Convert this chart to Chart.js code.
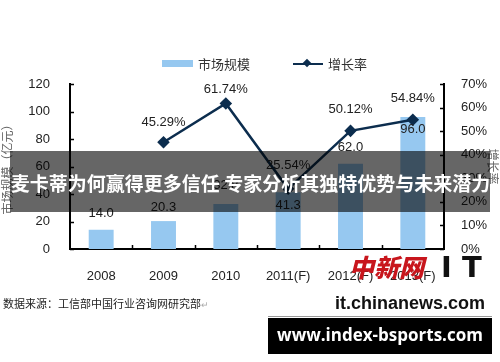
<!DOCTYPE html>
<html>
<head>
<meta charset="utf-8">
<script src="https://cdn.jsdelivr.net/npm/chart.js@4.4.1/dist/chart.umd.min.js"></script>
<style>
  body { margin: 0; background: #fff; }
  #wrap { position: relative; width: 500px; height: 362px; overflow: hidden; font-family: "Liberation Sans", Arial, sans-serif; }
  #c { position: absolute; left: 0; top: 0; }
  .cjk { font-family: "Noto Sans CJK SC", sans-serif; }
  .abs { position: absolute; white-space: nowrap; }
</style>
</head>
<body>
<div id="wrap">
  <canvas id="c" width="500" height="362"></canvas>

  <!-- legend -->
  <div class="abs" style="left:162px;top:60px;width:31px;height:7px;background:rgb(150,200,240);"></div>
  <div class="abs cjk" style="left:198px;top:55px;font-size:13px;color:#333;line-height:18px;">市场规模</div>
  <div class="abs" style="left:293px;top:63px;width:30px;height:2px;background:#0c2d4e;"></div>
  <div class="abs" style="left:304px;top:60px;width:6px;height:6px;background:#0c2d4e;transform:rotate(45deg);"></div>
  <div class="abs cjk" style="left:328px;top:55px;font-size:13px;color:#333;line-height:18px;">增长率</div>

  <!-- source -->
  <div class="abs cjk" style="left:3px;top:295px;font-size:11px;color:#222;line-height:16px;">数据来源：工信部中国行业咨询网研究部<span style="color:#aaa;font-size:9px;">↵</span></div>

  <!-- title banner -->
  <div class="abs" style="left:10px;top:151px;width:480px;height:61px;background:rgba(0,0,0,0.6);"></div>
  <div class="abs cjk" style="left:10px;top:169px;width:481px;text-align:center;font-size:19px;font-weight:bold;color:#fff;line-height:28px;">麦卡蒂为何赢得更多信任 专家分析其独特优势与未来潜力</div>

  <!-- watermark -->
  <div class="abs cjk" style="left:349px;top:250px;font-size:25px;font-weight:900;color:#c8161d;line-height:32px;font-style:italic;">中新网</div>
  <div class="abs" style="left:441px;top:252px;font-size:29px;font-weight:bold;color:#111;line-height:30px;font-family:'DejaVu Sans',sans-serif;">I T</div>
  <div class="abs" style="left:335px;top:293px;font-size:18px;font-weight:bold;color:#111;line-height:20px;">it.chinanews.com</div>

  <!-- bottom box -->
  <div class="abs" style="left:268px;top:316px;width:224px;height:1px;background:#999;"></div>
  <div class="abs" style="left:268px;top:318px;width:224px;height:36px;background:#000;"></div>
  <div class="abs" style="left:268px;top:322px;width:224px;text-align:center;font-size:17px;font-weight:bold;color:#fff;line-height:26px;font-family:'Open Sans',sans-serif;">www.index-bsports.com</div>
</div>

<script>
const years = ['2008', '2009', '2010', '2011(F)', '2012(F)', '2013(F)'];
const marketSize = [14.0, 20.3, 32.8, 41.3, 62.0, 96.0];
const growthRate = [null, 45.29, 61.74, 25.54, 50.12, 54.84];
const sizeTicks = [0, 20, 40, 60, 80, 100, 120];
const rateTicks = [0, 10, 20, 30, 40, 50, 60, 70];

// label nudges (px, negative = up)
const sizeLabelShift = [-16, -14, -18, 13, -16, 12];
const rateLabelShift = [-20, -14, -23, -21, -21];

const decor = {
  id: 'decor',
  afterDraw(chart) {
    const ctx = chart.ctx;
    const x = chart.scales.x, y = chart.scales.y, y1 = chart.scales.y1;
    ctx.save();
    ctx.strokeStyle = '#000';
    ctx.lineWidth = 1.5;
    ctx.beginPath();
    sizeTicks.forEach(v => {
      const py = Math.round(y.getPixelForValue(v)) + 0.5;
      ctx.moveTo(x.left, py); ctx.lineTo(x.left + 4, py);
    });
    rateTicks.forEach(v => {
      const py = Math.round(y1.getPixelForValue(v)) + 0.5;
      ctx.moveTo(x.right, py); ctx.lineTo(x.right - 4, py);
    });
    for (let i = 1; i < years.length; i++) {
      const px = Math.round((x.getPixelForValue(i - 1) + x.getPixelForValue(i)) / 2) + 0.5;
      ctx.moveTo(px, y.bottom); ctx.lineTo(px, y.bottom - 4);
    }
    ctx.stroke();

    ctx.font = '13px "Liberation Sans", Arial, sans-serif';
    ctx.fillStyle = '#222';
    ctx.textAlign = 'center';
    ctx.textBaseline = 'middle';
    chart.getDatasetMeta(1).data.forEach((bar, i) => {
      ctx.fillText(marketSize[i].toFixed(1), bar.x, bar.y + sizeLabelShift[i]);
    });
    chart.getDatasetMeta(0).data.forEach((pt, i) => {
      if (growthRate[i] == null) return;
      ctx.fillText(growthRate[i].toFixed(2) + '%', pt.x, pt.y + rateLabelShift[i - 1]);
    });
    ctx.restore();
  }
};

const tickFont = { family: '"Liberation Sans", Arial, sans-serif', size: 13 };

new Chart(document.getElementById('c'), {
  data: {
    labels: years,
    datasets: [
      {
        type: 'line',
        label: '增长率',
        data: growthRate,
        yAxisID: 'y1',
        borderColor: '#0c2d4e',
        backgroundColor: '#0c2d4e',
        borderWidth: 2.5,
        pointStyle: 'rectRot',
        pointRadius: 4.5,
        order: 0
      },
      {
        type: 'bar',
        label: '市场规模',
        data: marketSize,
        yAxisID: 'y',
        backgroundColor: 'rgb(150,200,240)',
        barPercentage: 0.4,
        categoryPercentage: 1,
        order: 1
      }
    ]
  },
  options: {
    responsive: false,
    animation: false,
    layout: { padding: { left: 0, right: 0, top: 84, bottom: 73 } },
    plugins: { legend: { display: false }, tooltip: { enabled: false } },
    scales: {
      x: {
        grid: { display: false },
        border: { display: true, color: '#000', width: 2 },
        ticks: { font: tickFont, color: '#222', padding: 12 },
        afterFit: s => { s.height = 40; }
      },
      y: {
        position: 'left',
        min: 0, max: 120,
        grid: { display: false },
        border: { display: true, color: '#000', width: 2 },
        ticks: { stepSize: 20, font: tickFont, color: '#222', padding: 12 },
        title: {
          display: true,
          text: '市场规模（亿元）',
          color: '#666',
          font: { family: '"Noto Sans CJK SC", sans-serif', size: 12 },
          padding: { top: 0, bottom: 0 }
        },
        afterFit: s => { s.width = 70; }
      },
      y1: {
        position: 'right',
        min: 0, max: 70,
        grid: { display: false },
        border: { display: true, color: '#000', width: 2 },
        ticks: { stepSize: 10, font: tickFont, color: '#222', padding: 9, callback: v => v + '%' },
        title: {
          display: true,
          text: '增长率',
          color: '#666',
          font: { family: '"Noto Sans CJK SC", sans-serif', size: 12 },
          padding: { top: 0, bottom: 0 }
        },
        afterFit: s => { s.width = 56; }
      }
    }
  },
  plugins: [decor]
});
</script>
</body>
</html>
